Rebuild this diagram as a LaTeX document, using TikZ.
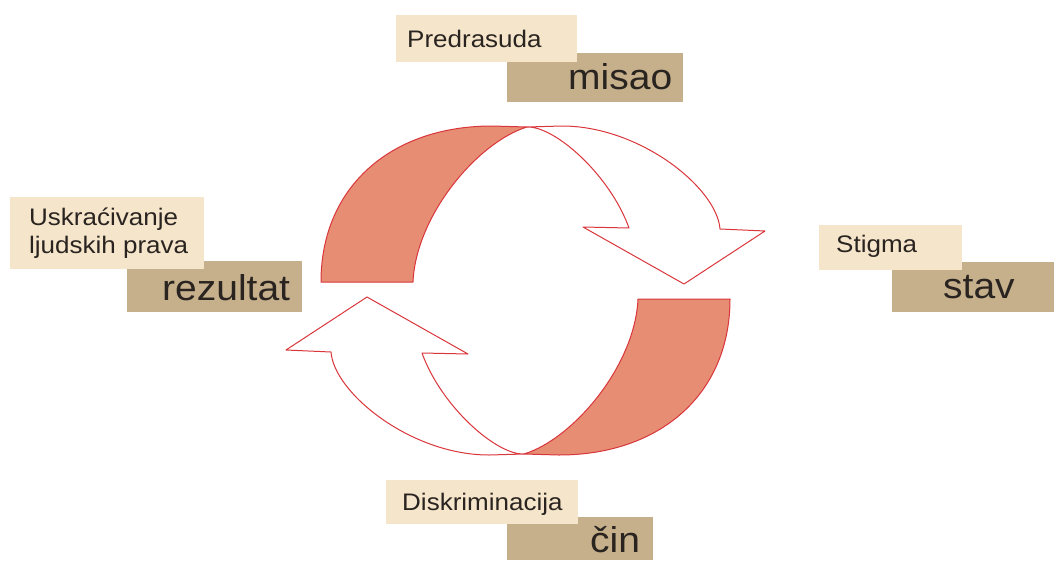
\documentclass[tikz,border=0pt]{standalone}
\usepackage{fontspec}
\setmainfont{Liberation Sans}
\usepackage{graphicx}
\definecolor{boxlight}{HTML}{F5E5CB}
\definecolor{boxdark}{HTML}{C6B08C}
\definecolor{txtcol}{HTML}{2A2420}
\definecolor{arrowfill}{HTML}{E68D74}
\definecolor{arrowline}{HTML}{D9363B}
\newcommand{\vsq}[1]{\scalebox{1}[0.92]{#1}}
\begin{document}
\begin{tikzpicture}[x=1pt,y=-1pt,
  lightbox/.style={fill=boxlight, draw=none, inner sep=0pt, anchor=north west},
  darkbox/.style={fill=boxdark, draw=none, inner sep=0pt, anchor=north west},
  smalltext/.style={anchor=base west, inner sep=0pt, text=txtcol, font=\fontsize{26}{28}\selectfont},
  bigtext/.style={anchor=base west, inner sep=0pt, text=txtcol, font=\fontsize{39}{40}\selectfont},
  ring/.style={draw=arrowline, line width=1pt, line join=round}]
\useasboundingbox (0,0) rectangle (1054,560);

% --- label boxes (dark first, light on top)
\node[darkbox, minimum width=176pt, minimum height=49pt] (misaobox) at (507,53) {};
\node[lightbox, minimum width=181pt, minimum height=47pt] (predbox) at (396,15) {};
\node[darkbox, minimum width=175pt, minimum height=51pt] (rezbox) at (127,261) {};
\node[lightbox, minimum width=194pt, minimum height=72pt] (uskbox) at (10,197) {};
\node[darkbox, minimum width=162pt, minimum height=50pt] (stavbox) at (892,262) {};
\node[lightbox, minimum width=143pt, minimum height=45pt] (stigbox) at (819,225) {};
\node[darkbox, minimum width=146pt, minimum height=43pt] (cinbox) at (507,517) {};
\node[lightbox, minimum width=192pt, minimum height=44pt] (diskbox) at (386,480) {};

% --- texts
\node[smalltext] (pred) at (407,47) {\vsq{Predrasuda}};
\node[bigtext] (misao) at (568,89.3) {\vsq{misao}};
\node[smalltext] (usk1) at (29,225) {\vsq{Uskraćivanje}};
\node[smalltext] (usk2) at (29,253) {\vsq{ljudskih prava}};
\node[bigtext] (rez) at (162,300) {\vsq{rezultat}};
\node[smalltext] (stig) at (836,252.4) {\vsq{Stigma}};
\node[bigtext] (stav) at (943,298.3) {\vsq{stav}};
\node[smalltext] (disk) at (402,510) {\vsq{Diskriminacija}};
\node[bigtext] (cin) at (590,552) {\vsq{čin}};

% --- circular arrows
\foreach \r in {0,180}{
  \begin{scope}[rotate around={\r:(525.5,290.5)}]
    \filldraw[ring, fill=arrowfill] (321,282)
      .. controls (321,186) and (392,126) .. (492,126)
      -- (527,127)
      .. controls (478,142) and (416,215) .. (413,282)
      -- cycle;
    \filldraw[ring, fill=white] (527,127) -- (562,126)
      .. controls (640,126) and (717,188) .. (720,229)
      -- (765,231) -- (684,284) -- (583,227) -- (629,228)
      .. controls (610,175) and (555,126) .. (527,127)
      -- cycle;
  \end{scope}
}
\end{tikzpicture}
\end{document}
